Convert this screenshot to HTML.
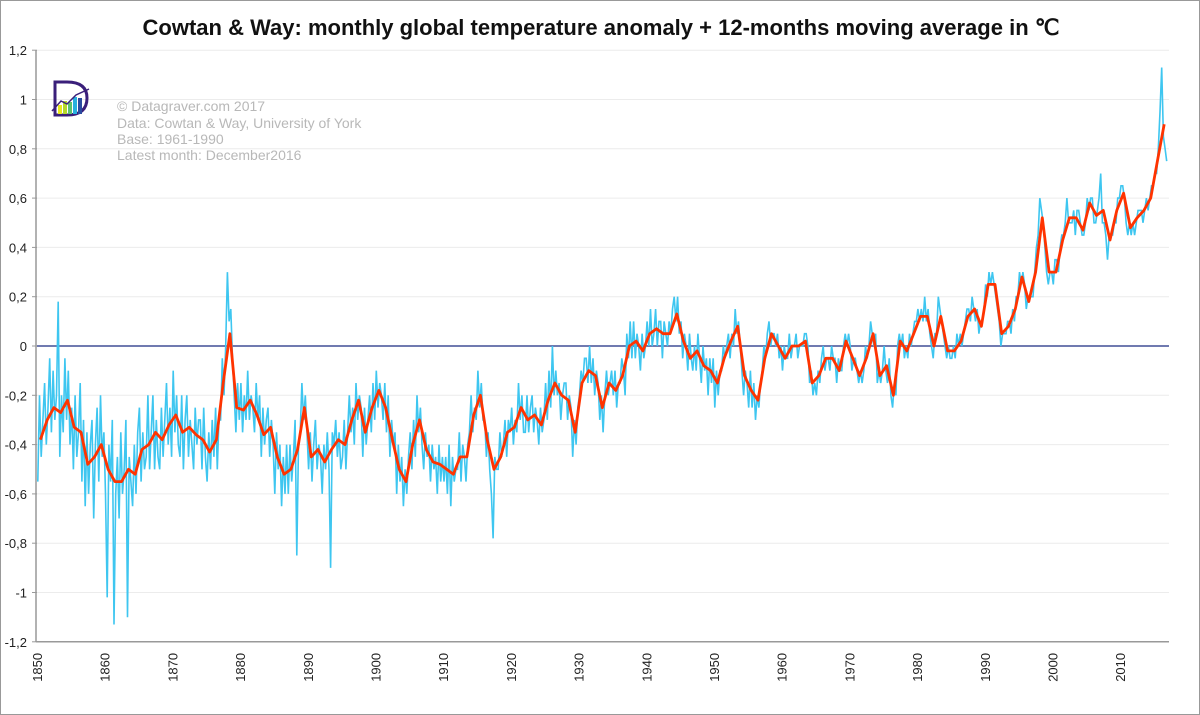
<!DOCTYPE html>
<html><head><meta charset="utf-8"><style>
body{margin:0;background:#fff;}
#wrap{position:relative;width:1200px;height:715px;box-sizing:border-box;border:1px solid #999;overflow:hidden;font-family:"Liberation Sans",sans-serif;}
</style></head><body>
<div id="wrap">
<svg id="chart" width="1200" height="715">
<text x="600" y="34" text-anchor="middle" font-size="22" font-weight="bold" fill="#111">Cowtan &amp; Way: monthly global temperature anomaly + 12-months moving average in ℃</text>
<g id="grid"></g>
<g id="yticks"></g>
<g id="xticks"></g>
<g>
<path d="M54,81 L66,81 Q86,81 86,97 Q86,114 66,114 L54,114 Z" fill="none" stroke="#3a1f7a" stroke-width="3"/>
<rect x="57" y="104" width="4" height="9" fill="#e8e820"/><rect x="62" y="100" width="4" height="13" fill="#b6d82a"/><rect x="67" y="101" width="4" height="12" fill="#5cc070"/><rect x="72" y="96" width="4" height="17" fill="#28b0e0"/><rect x="77" y="97" width="4" height="16" fill="#2a4aa0"/>
<path d="M51,110 L60,100 L66,103 L75,94 L88,88" fill="none" stroke="#3a1f7a" stroke-width="1.5"/>
</g>
<g font-size="14" fill="#b8b8b8">
<text x="116" y="110">© Datagraver.com 2017</text>
<text x="116" y="127">Data: Cowtan &amp; Way, University of York</text>
<text x="116" y="143">Base: 1961-1990</text>
<text x="116" y="159">Latest month: December2016</text>
</g>
<g id="series"></g>
</svg>
</div>
<script>
const yTicks=[1.2,1,0.8,0.6,0.4,0.2,0,-0.2,-0.4,-0.6,-0.8,-1,-1.2];
const xTicks=[1850,1860,1870,1880,1890,1900,1910,1920,1930,1940,1950,1960,1970,1980,1990,2000,2010];
const startYear=1850;
const monthlyQuarterly=[
-0.55,-0.2,-0.45,-0.3,-0.15,-0.4,-0.25,-0.05,-0.35,-0.1,-0.3,-0.2,0.18,-0.45,-0.2,-0.35,-0.05,-0.3,-0.1,-0.4,
-0.25,-0.5,-0.2,-0.45,-0.35,-0.15,-0.55,-0.3,-0.65,-0.35,-0.6,-0.4,-0.3,-0.7,-0.4,-0.25,-0.55,-0.2,-0.45,-0.35,
-0.6,-1.02,-0.4,-0.55,-0.3,-1.13,-0.6,-0.45,-0.7,-0.35,-0.6,-0.5,-0.3,-1.1,-0.45,-0.55,-0.65,-0.4,-0.6,-0.35,
-0.25,-0.55,-0.35,-0.5,-0.45,-0.2,-0.5,-0.35,-0.2,-0.5,-0.3,-0.45,-0.5,-0.25,-0.45,-0.3,-0.15,-0.4,-0.25,-0.45,
-0.1,-0.35,-0.2,-0.4,-0.45,-0.2,-0.5,-0.3,-0.2,-0.45,-0.3,-0.4,-0.5,-0.25,-0.4,-0.3,-0.3,-0.5,-0.25,-0.45,
-0.55,-0.35,-0.5,-0.3,-0.45,-0.25,-0.5,-0.3,-0.3,-0.05,-0.2,0.0,0.3,0.1,0.15,-0.05,-0.2,-0.35,-0.15,-0.3,
-0.15,-0.35,-0.2,-0.3,-0.1,-0.3,-0.2,-0.25,-0.35,-0.15,-0.3,-0.2,-0.45,-0.25,-0.4,-0.3,-0.25,-0.45,-0.3,-0.4,
-0.6,-0.35,-0.5,-0.4,-0.65,-0.45,-0.6,-0.4,-0.6,-0.4,-0.55,-0.45,-0.3,-0.85,-0.4,-0.35,-0.15,-0.3,-0.2,-0.35,
-0.5,-0.35,-0.55,-0.4,-0.3,-0.5,-0.4,-0.45,-0.6,-0.4,-0.5,-0.35,-0.5,-0.9,-0.35,-0.4,-0.3,-0.45,-0.35,-0.5,
-0.45,-0.3,-0.5,-0.35,-0.2,-0.35,-0.25,-0.4,-0.15,-0.3,-0.2,-0.25,-0.45,-0.25,-0.4,-0.3,-0.2,-0.35,-0.15,-0.3,
-0.1,-0.25,-0.15,-0.2,-0.3,-0.15,-0.35,-0.2,-0.45,-0.3,-0.4,-0.35,-0.6,-0.4,-0.55,-0.45,-0.65,-0.5,-0.6,-0.45,
-0.35,-0.5,-0.3,-0.45,-0.2,-0.35,-0.25,-0.4,-0.5,-0.35,-0.45,-0.4,-0.55,-0.4,-0.5,-0.45,-0.6,-0.4,-0.55,-0.45,
-0.55,-0.45,-0.6,-0.4,-0.65,-0.45,-0.55,-0.5,-0.5,-0.35,-0.55,-0.4,-0.45,-0.55,-0.4,-0.35,-0.2,-0.35,-0.25,-0.3,
-0.1,-0.25,-0.15,-0.3,-0.3,-0.45,-0.35,-0.5,-0.6,-0.78,-0.45,-0.5,-0.5,-0.35,-0.45,-0.4,-0.3,-0.45,-0.3,-0.35,
-0.25,-0.4,-0.3,-0.35,-0.15,-0.3,-0.2,-0.35,-0.35,-0.2,-0.35,-0.25,-0.2,-0.35,-0.25,-0.3,-0.4,-0.25,-0.35,-0.3,
-0.15,-0.3,-0.1,-0.25,0.0,-0.2,-0.1,-0.2,-0.15,-0.3,-0.2,-0.15,-0.15,-0.3,-0.2,-0.25,-0.45,-0.3,-0.4,-0.25,
-0.2,-0.1,-0.15,-0.05,-0.05,-0.15,0.0,-0.15,-0.05,-0.2,-0.1,-0.15,-0.3,-0.2,-0.35,-0.2,-0.1,-0.2,-0.15,-0.1,
-0.2,-0.1,-0.25,-0.15,-0.15,-0.05,-0.1,-0.2,0.05,-0.05,0.1,-0.05,0.1,-0.05,0.05,0.0,-0.1,0.05,-0.05,0.0,
0.1,0.0,0.15,0.0,0.05,0.15,0.0,0.1,0.1,-0.05,0.1,0.05,0.0,0.1,0.05,0.15,0.2,0.1,0.2,0.05,
0.1,-0.05,0.05,0.0,-0.1,0.05,-0.05,-0.1,0.0,-0.1,0.05,-0.05,-0.15,0.0,-0.1,-0.05,-0.2,-0.05,-0.15,-0.05,
-0.25,-0.1,-0.2,-0.1,-0.1,0.0,-0.05,0.0,0.05,-0.05,0.05,0.0,0.15,0.05,0.1,0.0,-0.1,-0.2,-0.1,-0.15,
-0.25,-0.1,-0.25,-0.15,-0.3,-0.2,-0.25,-0.15,-0.1,0.0,-0.05,0.05,0.1,0.0,0.05,0.05,0.0,0.05,-0.05,0.0,
-0.1,0.0,-0.05,-0.05,0.05,-0.05,0.0,0.0,0.05,-0.05,0.0,0.0,0.0,0.05,0.05,0.0,-0.15,-0.1,-0.2,-0.15,
-0.2,-0.1,-0.15,-0.05,0.0,-0.1,-0.05,-0.05,-0.1,0.0,-0.05,-0.05,-0.15,-0.05,-0.1,-0.1,0.0,0.05,0.0,0.05,
0.0,-0.1,-0.05,-0.05,-0.1,-0.15,-0.1,-0.15,-0.1,0.0,-0.05,0.0,0.1,0.05,0.0,0.05,-0.15,-0.1,-0.15,-0.1,
0.0,-0.1,-0.15,-0.05,-0.2,-0.25,-0.15,-0.2,0.0,0.05,0.0,0.05,-0.05,0.0,-0.05,0.05,0.0,0.05,0.1,0.1,
0.15,0.1,0.15,0.1,0.2,0.1,0.15,0.05,0.0,-0.05,0.05,0.05,0.2,0.15,0.1,0.05,0.0,-0.05,0.0,-0.05,
-0.05,0.0,-0.05,0.05,0.0,0.05,0.0,0.05,0.1,0.15,0.15,0.1,0.2,0.15,0.1,0.15,0.05,0.1,0.1,0.15,
0.25,0.2,0.3,0.25,0.3,0.25,0.2,0.15,0.1,0.0,0.05,0.05,0.05,0.1,0.1,0.05,0.15,0.1,0.2,0.2,
0.3,0.25,0.3,0.25,0.15,0.2,0.2,0.2,0.2,0.3,0.4,0.45,0.6,0.55,0.5,0.4,0.3,0.25,0.3,0.3,
0.25,0.35,0.35,0.3,0.4,0.45,0.45,0.5,0.6,0.5,0.5,0.5,0.55,0.45,0.55,0.55,0.5,0.45,0.45,0.5,
0.6,0.55,0.6,0.6,0.5,0.5,0.55,0.6,0.7,0.5,0.5,0.45,0.35,0.45,0.45,0.45,0.5,0.5,0.6,0.6,
0.65,0.65,0.6,0.5,0.45,0.5,0.45,0.5,0.45,0.5,0.55,0.55,0.55,0.5,0.55,0.6,0.55,0.6,0.65,0.65,
0.7,0.7,0.8,0.95,1.13,0.85,0.8,0.75];
const movingAvg=[
-0.38,-0.30,-0.25,-0.27,-0.22,-0.33,-0.35,-0.48,-0.45,-0.40,
-0.50,-0.55,-0.55,-0.50,-0.52,-0.42,-0.40,-0.35,-0.38,-0.32,
-0.28,-0.35,-0.33,-0.36,-0.38,-0.43,-0.38,-0.15,0.05,-0.25,
-0.26,-0.22,-0.28,-0.36,-0.33,-0.45,-0.52,-0.50,-0.42,-0.25,
-0.45,-0.42,-0.47,-0.42,-0.38,-0.40,-0.30,-0.22,-0.35,-0.25,
-0.18,-0.25,-0.38,-0.50,-0.55,-0.40,-0.30,-0.42,-0.47,-0.48,
-0.50,-0.52,-0.45,-0.45,-0.28,-0.20,-0.38,-0.50,-0.45,-0.35,
-0.33,-0.25,-0.30,-0.28,-0.32,-0.22,-0.15,-0.20,-0.22,-0.35,
-0.15,-0.10,-0.12,-0.25,-0.15,-0.18,-0.12,0.0,0.02,-0.02,
0.05,0.07,0.05,0.05,0.13,0.02,-0.05,-0.02,-0.08,-0.10,
-0.15,-0.05,0.02,0.08,-0.12,-0.18,-0.22,-0.05,0.05,0.0,
-0.05,0.0,0.0,0.02,-0.15,-0.12,-0.05,-0.05,-0.10,0.02,
-0.05,-0.12,-0.05,0.05,-0.12,-0.08,-0.20,0.02,-0.02,0.05,
0.12,0.12,0.0,0.12,-0.02,-0.02,0.02,0.12,0.15,0.08,
0.25,0.25,0.05,0.08,0.15,0.28,0.18,0.30,0.52,0.30,
0.30,0.43,0.52,0.52,0.47,0.58,0.53,0.55,0.43,0.55,
0.62,0.48,0.52,0.55,0.60,0.75,0.90];

const NS='http://www.w3.org/2000/svg';
const X0=36,PXY=6.77,Y0=345,PXV=246.5;
function xs(yr){return X0+(yr-startYear)*PXY;}
function ys(v){return Y0-v*PXV;}
function mk(tag,attrs,parent){const e=document.createElementNS(NS,tag);for(const k in attrs)e.setAttribute(k,attrs[k]);parent.appendChild(e);return e;}
const grid=document.getElementById('grid'),yt=document.getElementById('yticks'),xt=document.getElementById('xticks'),ser=document.getElementById('series');
yTicks.forEach(v=>{
  const l=mk('line',{x1:36,x2:1168,y1:ys(v),y2:ys(v),stroke:'#ececec','stroke-width':1},grid);
  
  
  const tk=mk('line',{x1:31,x2:36,y1:ys(v),y2:ys(v),stroke:'#999'},yt);
  const t=mk('text',{x:26,y:ys(v)+5,'text-anchor':'end','font-size':13,fill:'#222'},yt);
  t.textContent=String(v).replace('.',',');
  
  
});
mk('line',{x1:35,x2:35,y1:ys(1.2),y2:ys(-1.2),stroke:'#999','stroke-width':1.5},yt);
mk('line',{x1:35,x2:1168,y1:ys(-1.2),y2:ys(-1.2),stroke:'#999','stroke-width':1.5},xt);
xTicks.forEach(yr=>{
  const t=mk('text',{x:0,y:0,'font-size':13,fill:'#222',transform:`translate(${xs(yr)+5},${ys(-1.2)+40}) rotate(-90)`},xt);
  t.textContent=yr;
  
  
});
const zl=mk('line',{x1:36,x2:1168,y1:ys(0),y2:ys(0),stroke:'#1a2a80','stroke-width':1.3},ser);


let d='';
monthlyQuarterly.forEach((v,i)=>{d+=(i?'L':'M')+xs(startYear+i/4+0.125).toFixed(1)+','+ys(v).toFixed(1);});
const bl=mk('path',{d:d,fill:'none',stroke:'#3ec6f0','stroke-width':1.6},ser);


let d2='';
movingAvg.forEach((v,i)=>{d2+=(i?'L':'M')+xs(startYear+i+0.5).toFixed(1)+','+ys(v).toFixed(1);});
const rl=mk('path',{d:d2,fill:'none',stroke:'#ff3300','stroke-width':2.8,'stroke-linejoin':'round'},ser);


</script>
</body></html>
